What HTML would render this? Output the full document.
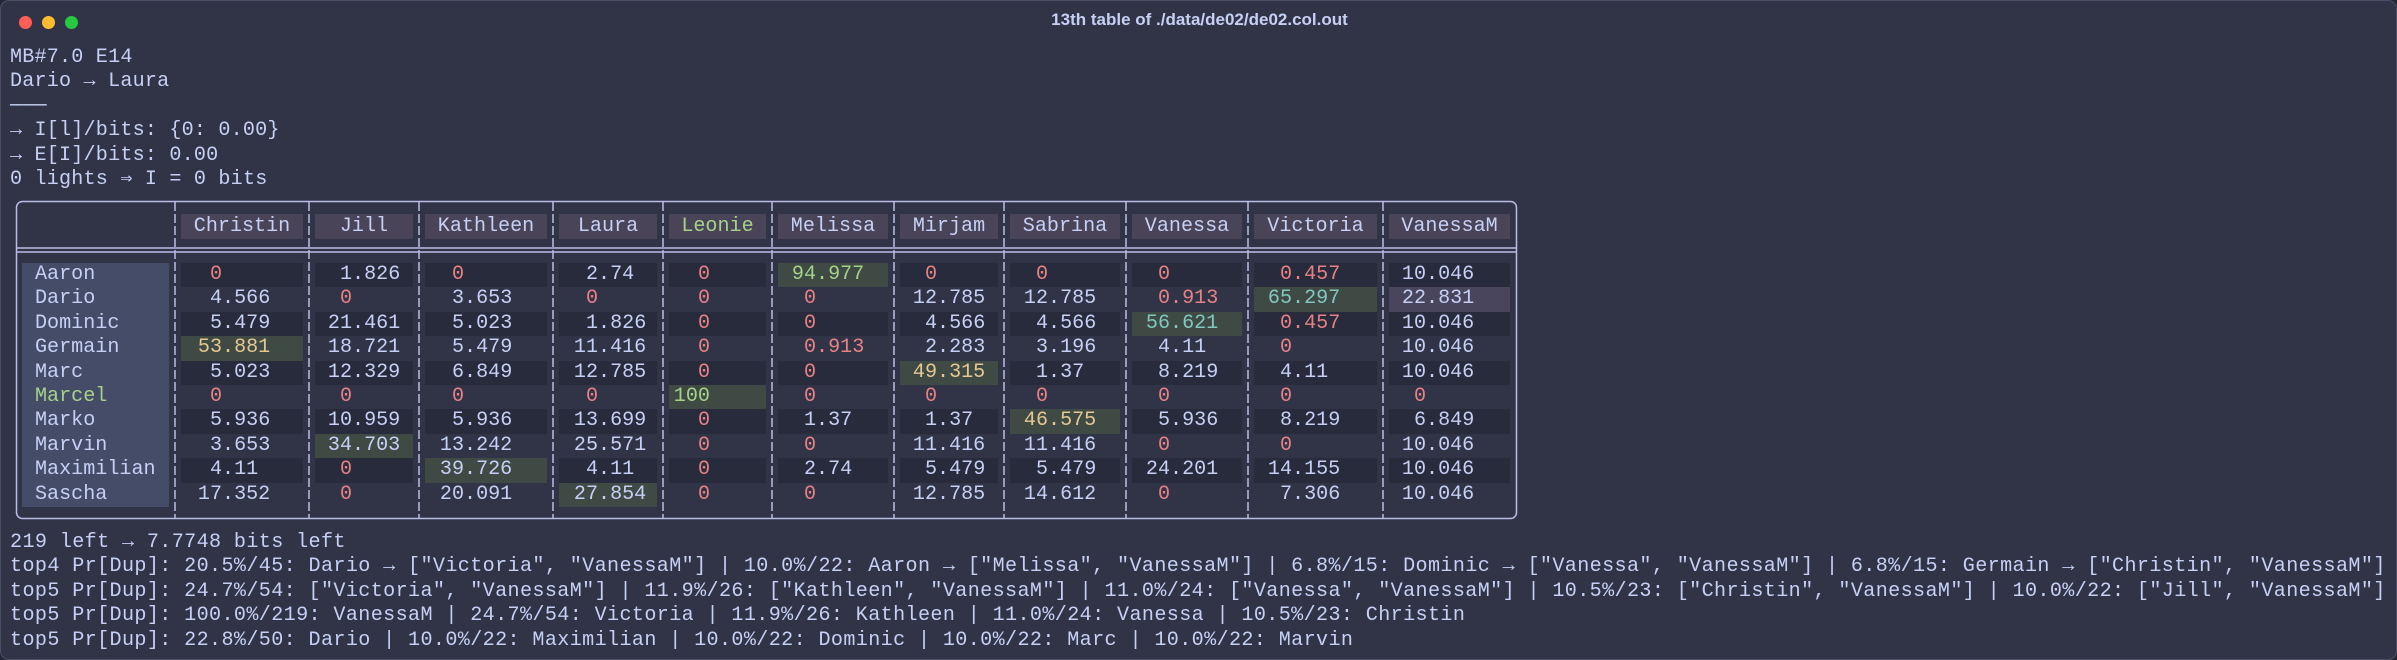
<!DOCTYPE html>
<html><head><meta charset="utf-8">
<style>
html,body{margin:0;padding:0;background:#232634;}
#win{position:absolute;left:0;top:0;width:2395px;height:658px;background:#303446;border:1px solid #4a4f66;border-radius:9px;overflow:hidden;font-family:"Liberation Mono","DejaVu Sans Mono",monospace;font-size:20.1px;color:#c6d0f5;}
.dot{position:absolute;top:15px;width:13px;height:13px;border-radius:50%;}
#title{position:absolute;left:0;width:2397px;top:9px;text-align:center;font-family:"Liberation Sans",sans-serif;font-weight:bold;font-size:17px;color:#c6d0f5;}
pre{position:absolute;left:9px;margin:0;font:inherit;line-height:24.4px;white-space:pre;}
.abs{position:absolute;white-space:pre;line-height:24.4px;height:24.4px;}
.r{color:#e78284}.g{color:#a6d189}.y{color:#e5c890}.t{color:#81c8be}
</style></head><body>
<div id="win">
<div class="dot" style="left:18px;background:#ff5f57"></div>
<div class="dot" style="left:41px;background:#febc2e"></div>
<div class="dot" style="left:64px;background:#28c840"></div>
<div id="title">13th table of ./data/de02/de02.col.out</div>
<pre style="top:45px;letter-spacing:0.2px">MB#7.0 E14
Dario → Laura
───
→ I[l]/bits: {0: 0.00}
→ E[I]/bits: 0.00
0 lights ⇒ I = 0 bits</pre>
<svg id="grid" width="2397" height="660" style="position:absolute;left:0;top:0"></svg>
<div id="cells"></div>
<pre style="top:530px;letter-spacing:0.38px">219 left → 7.7748 bits left
top4 Pr[Dup]: 20.5%/45: Dario → ["Victoria", "VanessaM"] | 10.0%/22: Aaron → ["Melissa", "VanessaM"] | 6.8%/15: Dominic → ["Vanessa", "VanessaM"] | 6.8%/15: Germain → ["Christin", "VanessaM"]
top5 Pr[Dup]: 24.7%/54: ["Victoria", "VanessaM"] | 11.9%/26: ["Kathleen", "VanessaM"] | 11.0%/24: ["Vanessa", "VanessaM"] | 10.5%/23: ["Christin", "VanessaM"] | 10.0%/22: ["Jill", "VanessaM"]
top5 Pr[Dup]: 100.0%/219: VanessaM | 24.7%/54: Victoria | 11.9%/26: Kathleen | 11.0%/24: Vanessa | 10.5%/23: Christin
top5 Pr[Dup]: 22.8%/50: Dario | 10.0%/22: Maximilian | 10.0%/22: Dominic | 10.0%/22: Marc | 10.0%/22: Marvin</pre>
</div>
<script>
const columns=["Christin","Jill","Kathleen","Laura","Leonie","Melissa","Mirjam","Sabrina","Vanessa","Victoria","VanessaM"];
const rows=["Aaron","Dario","Dominic","Germain","Marc","Marcel","Marko","Marvin","Maximilian","Sascha"];
const values=[
["0","1.826","0","2.74","0","94.977","0","0","0","0.457","10.046"],
["4.566","0","3.653","0","0","0","12.785","12.785","0.913","65.297","22.831"],
["5.479","21.461","5.023","1.826","0","0","4.566","4.566","56.621","0.457","10.046"],
["53.881","18.721","5.479","11.416","0","0.913","2.283","3.196","4.11","0","10.046"],
["5.023","12.329","6.849","12.785","0","0","49.315","1.37","8.219","4.11","10.046"],
["0","0","0","0","100","0","0","0","0","0","0"],
["5.936","10.959","5.936","13.699","0","1.37","1.37","46.575","5.936","8.219","6.849"],
["3.653","34.703","13.242","25.571","0","0","11.416","11.416","0","0","10.046"],
["4.11","0","39.726","4.11","0","2.74","5.479","5.479","24.201","14.155","10.046"],
["17.352","0","20.091","27.854","0","0","12.785","14.612","0","7.306","10.046"]];
const highlights=[[0,5,"g","#3f4a45"],[5,4,"g","#3f4a45"],[3,0,"y","#3f4a45"],[4,6,"y","#3f4a45"],[6,7,"y","#3f4a45"],[2,8,"t","#3f4a45"],[1,9,"t","#3f4a45"],[7,1,"","#3f4a45"],[8,2,"","#3f4a45"],[9,3,"","#3f4a45"],[1,10,"","#48455c"]];
const seps=[15,174,308,418,552,662,771,893,1003,1125,1247,1382,1515];
const digitX=[209,339,451,585,697,803,924,1035,1157,1279,1413];
const CW=12.1,RT=262,RH=24.4;
const cells=document.getElementById('cells');
function add(x,y,w,h,bg,txt,cls,name,al){
  const d=document.createElement('div');d.className='abs '+(cls||'');
  d.style.left=x+'px';d.style.top=y+'px';
  if(w)d.style.width=w+'px';
  if(h){d.style.height=h+'px';}
  if(bg)d.style.background=bg;
  if(al)d.style.textAlign=al;
  d.textContent=txt||'';
  
  
  cells.appendChild(d);return d;
}
add(21,RT,147,RH*rows.length,"#454c68","","","row-label-column");
rows.forEach((r,i)=>{add(34,RT+i*RH,0,0,"",r,r==="Marcel"?"g":"","row-label-"+r.toLowerCase());});
columns.forEach((c,j)=>{
  const x0=seps[j+1]+6,x1=seps[j+2]-6;
  const h=add(x0,213,x1-x0,25,"#4a4458",c,c==="Leonie"?"g":"","column-header-"+c.toLowerCase(),"center");
  h.style.lineHeight='25px';
  rows.forEach((r,i)=>{
    const v=values[i][j];
    let bg=(i%2===0)?"#282b3b":"";let cls=(parseFloat(v)<1)?"r":"";
    highlights.forEach(hl=>{if(hl[0]===i&&hl[1]===j){bg=hl[3];cls=hl[2];}});
    if(bg)add(x0,RT+i*RH,x1-x0,RH,bg,"","","cell-bg-"+r.toLowerCase()+"-"+c.toLowerCase());
    const il=v.split('.')[0].length;
    add(digitX[j]-(il-1)*CW,RT+i*RH,0,0,"",v,cls,"cell-"+r.toLowerCase()+"-"+c.toLowerCase());
  });
});
const svg=document.getElementById('grid');const NS="http://www.w3.org/2000/svg";
function el(t,a,name){const e=document.createElementNS(NS,t);for(const k in a)e.setAttribute(k,a[k]);svg.appendChild(e);}
el('rect',{x:15.5,y:200.5,width:1500,height:317,rx:6,fill:'none',stroke:'#b9bde6','stroke-width':1.5},'table-border');
el('line',{x1:15,y1:247,x2:1515,y2:247,stroke:'#b9bde6','stroke-width':1.5},'header-rule-top');
el('line',{x1:15,y1:251,x2:1515,y2:251,stroke:'#b9bde6','stroke-width':1.5},'header-rule-bottom');
for(let k=1;k<seps.length-1;k++){
  el('line',{x1:seps[k],y1:201,x2:seps[k],y2:517,stroke:'#b9bde6','stroke-width':1.5,'stroke-dasharray':'9 3'},'column-separator');
}
</script>
</body></html>
